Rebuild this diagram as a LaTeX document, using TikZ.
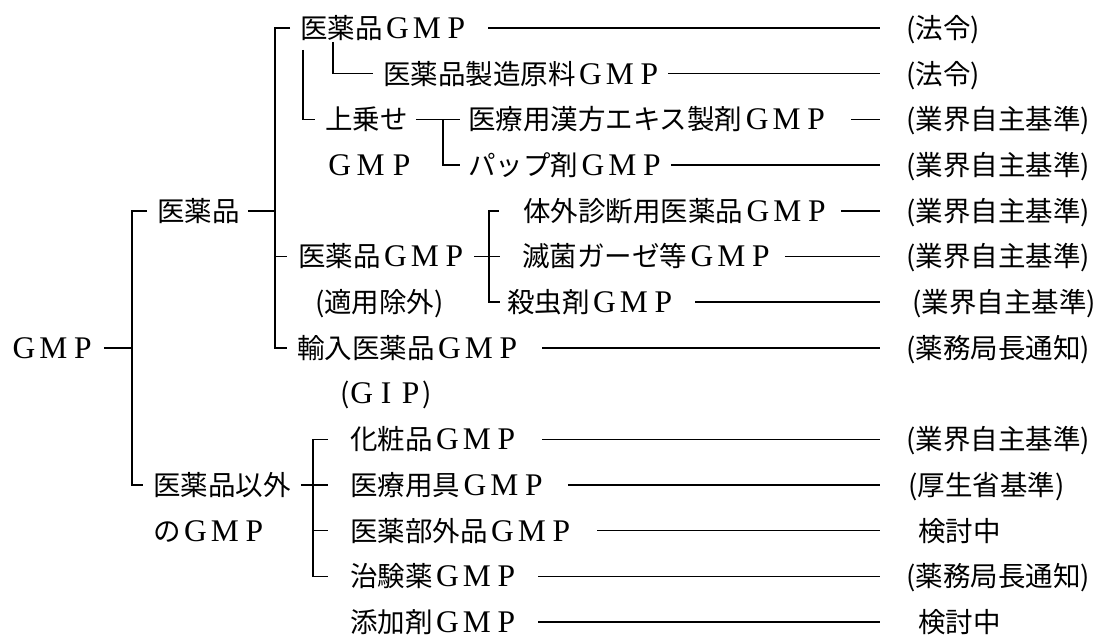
\documentclass[tikz,border=0pt]{standalone}
\usepackage{fontspec}
\setmainfont{Noto Sans CJK JP}
\newfontfamily\latf{Liberation Serif}
\newcommand\Lc[2][29.5pt]{\makebox[#1][c]{\latf\fontsize{31.5}{32}\selectfont #2}}
\newcommand\GMP{\Lc{G}\Lc{M}\Lc{P}}
\tikzset{
  t/.style={anchor=west, inner sep=0pt, text height=24pt, text depth=3.3pt,
            font=\fontsize{27.5}{30}\selectfont},
  ln/.style={line width=1.5pt, line cap=butt}
}
\begin{document}
\begin{tikzpicture}[x=1pt,y=-1pt]
\fill[white] (0,0) rectangle (1098,643);
\useasboundingbox (0,0) rectangle (1098,643);
% spine coordinates
\coordinate (sp0) at (132,0);
\coordinate (sp1) at (275,0);
\coordinate (sp2) at (443,0);
\coordinate (sp3) at (489,0);
\coordinate (sp4) at (313,0);
\coordinate (rx) at (880,0);
% left nodes
\node[t] (root) at (9,347.9) {\GMP};
\node[t] (n1) at (157,210.8) {医薬品};
\node[t] (n2) at (153,485) {医薬品以外};
\node[t] (n2b) at (153,530.7) {の\GMP};
% upper branch
\node[t] (a0) at (300,28) {医薬品\GMP};
\node[t] (a1) at (383,73.7) {医薬品製造原料\GMP};
\node[t] (a2) at (325,119.4) {上乗せ};
\node[t] (a2b) at (324,165.1) {\Lc[31pt]{G}\Lc[31pt]{M}\Lc[31pt]{P}};
\node[t] (a3) at (468,119.4) {医療用漢方エキス製剤\GMP};
\node[t] (a4) at (468,165.1) {パップ剤\GMP};
\node[t] (b0) at (298,256.5) {医薬品\GMP};
\node[t] (b0b) at (315,302.2) {(適用除外)};
\node[t] (b1) at (523,210.8) {体外診断用医薬品\GMP};
\node[t] (b2) at (522,256.5) {滅菌ガーゼ等\GMP};
\node[t] (b3) at (507,302.2) {殺虫剤\GMP};
\node[t] (c0) at (297,347.9) {輸入医薬品\GMP};
\node[t] (c0b) at (340,393.6) {(\Lc[24.5pt]{G}\Lc[24.5pt]{I}\Lc[24.5pt]{P})};
% lower branch
\node[t] (d1) at (350,439.3) {化粧品\GMP};
\node[t] (d2) at (350,485) {医療用具\GMP};
\node[t] (d3) at (350,530.7) {医薬部外品\GMP};
\node[t] (d4) at (350,576.4) {治験薬\GMP};
\node[t] (d5) at (350,622.1) {添加剤\GMP};
% right labels
\node[t] (r0) at (906,28) {(法令)};
\node[t] (r1) at (906,73.7) {(法令)};
\node[t] (r3) at (906,119.4) {(業界自主基準)};
\node[t] (r4) at (906,165.1) {(業界自主基準)};
\node[t] (rb1) at (906,210.8) {(業界自主基準)};
\node[t] (rb2) at (906,256.5) {(業界自主基準)};
\node[t] (rb3) at (912,302.2) {(業界自主基準)};
\node[t] (rc0) at (906,347.9) {(薬務局長通知)};
\node[t] (rd1) at (906,439.3) {(業界自主基準)};
\node[t] (rd2) at (908,485) {(厚生省基準)};
\node[t] (rd3) at (918,530.7) {検討中};
\node[t] (rd4) at (906,576.4) {(薬務局長通知)};
\node[t] (rd5) at (918,622.1) {検討中};
% root connectors
\draw[ln] ([xshift=6pt]root.east) -- (root.east -| sp0);
\draw[ln] ([xshift=-10pt]n1.west) -- (n1.west -| sp0) -- (n2.west -| sp0) -- ([xshift=-10pt]n2.west);
% level 2 spine
\draw[ln] ([xshift=-10pt]a0.west) -- (a0.west -| sp1) -- (c0.west -| sp1) -- ([xshift=-10pt]c0.west);
\draw[ln] ([xshift=8pt]n1.east) -- (n1.east -| sp1);
\draw[ln] (b0.west -| sp1) -- ([xshift=-11pt]b0.west);
% under 医薬品GMP
\draw[ln] ([xshift=3pt,yshift=-8pt]a0.south west) |- ([xshift=-10pt]a2.west);
\draw[ln] ([xshift=33pt]a0.south west) |- ([xshift=-10pt]a1.west);
% 上乗せ group
\draw[ln] ([xshift=8pt]a2.east) -- ([xshift=-8pt]a3.west);
\draw[ln] (a3.west -| sp2) -- (a4.west -| sp2) -- ([xshift=-8pt]a4.west);
% 適用除外 group
\draw[ln] ([xshift=5pt]b0.east) -- ([xshift=-22pt]b2.west);
\draw[ln] ([xshift=-24pt]b1.west) -- (b1.west -| sp3) -- (b3.west -| sp3) -- ([xshift=-7pt]b3.west);
% 医薬品以外 group
\draw[ln] ([xshift=10pt]n2.east) -- ([xshift=-22pt]d2.west);
\draw[ln] ([xshift=-22pt]d1.west) -- (d1.west -| sp4) -- (d4.west -| sp4) -- ([xshift=-22pt]d4.west);
\draw[ln] (d3.west -| sp4) -- ([xshift=-22pt]d3.west);
% right-hand lines
\draw[ln] ([xshift=17pt]a0.east) -- (a0.east -| rx);
\draw[ln] ([xshift=4pt]a1.east) -- (a1.east -| rx);
\draw[ln] ([xshift=20pt]a3.east) -- (a3.east -| rx);
\draw[ln] ([xshift=4pt]a4.east) -- (a4.east -| rx);
\draw[ln] ([xshift=9pt]b1.east) -- (b1.east -| rx);
\draw[ln] ([xshift=9pt]b2.east) -- (b2.east -| rx);
\draw[ln] ([xshift=17pt]b3.east) -- (b3.east -| rx);
\draw[ln] ([xshift=19pt]c0.east) -- (c0.east -| rx);
\draw[ln] ([xshift=21pt]d1.east) -- (d1.east -| rx);
\draw[ln] ([xshift=19pt]d2.east) -- (d2.east -| rx);
\draw[ln] ([xshift=21pt]d3.east) -- (d3.east -| rx);
\draw[ln] ([xshift=17pt]d4.east) -- (d4.east -| rx);
\draw[ln] ([xshift=17pt]d5.east) -- (d5.east -| rx);
\end{tikzpicture}
\end{document}
